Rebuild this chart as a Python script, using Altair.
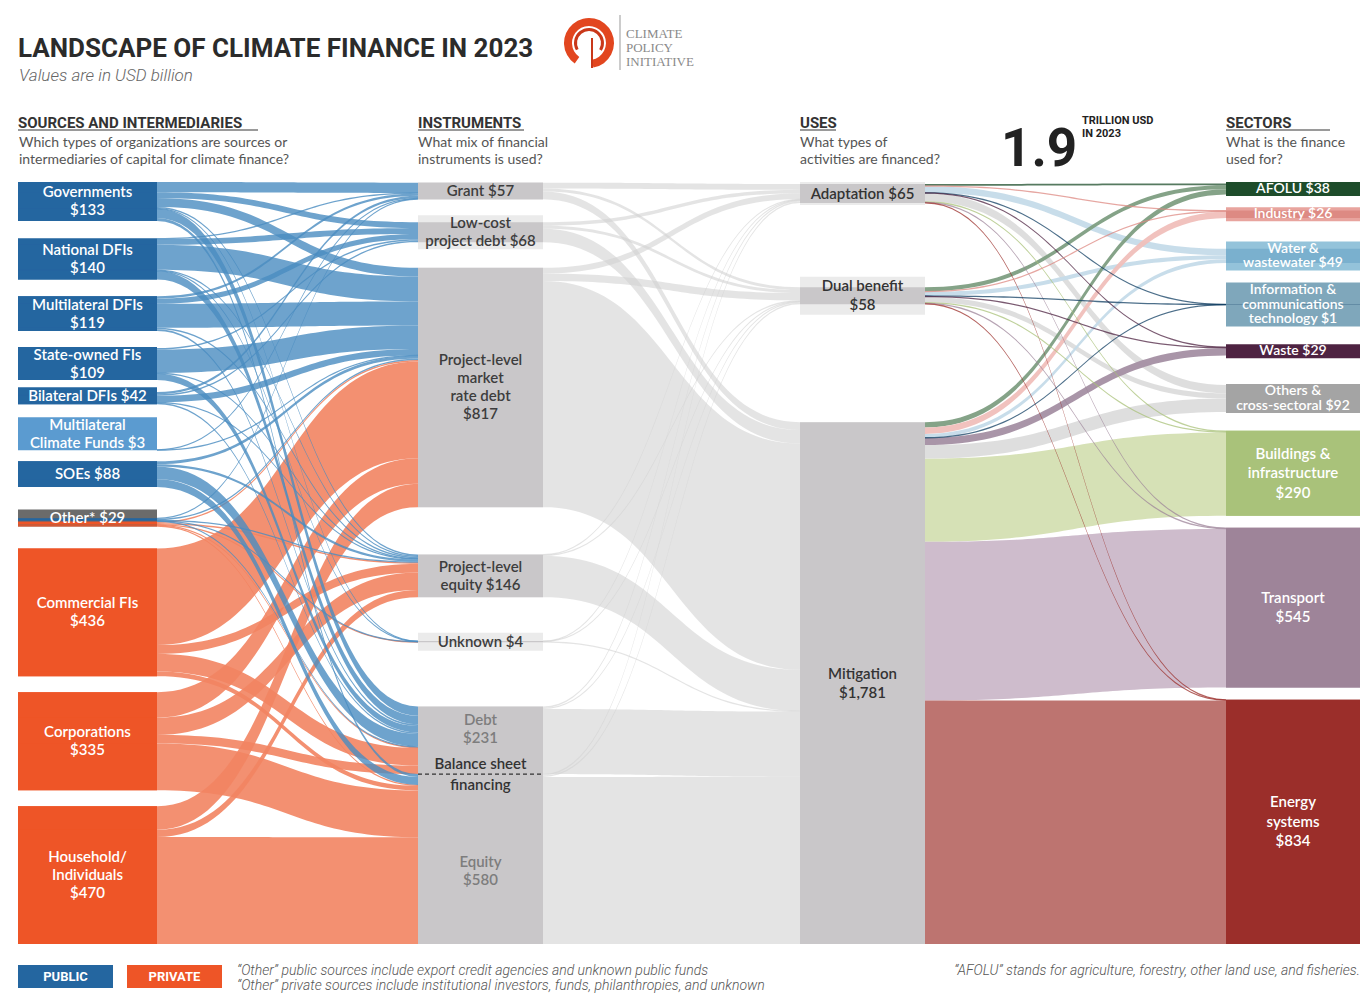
import altair as alt
import numpy as np
import pandas as pd

# ---------------- DATA (USD billion) ----------------
source_labels = ["Governments\n$133", "National DFIs\n$140", "Multilateral DFIs\n$119", "State-owned FIs\n$109",
                 "Bilateral DFIs $42", "Multilateral\nClimate Funds $3", "SOEs $88", "Other* $29",
                 "Commercial FIs\n$436", "Corporations\n$335", "Household/\nIndividuals\n$470"]
source_values = [133, 140, 119, 109, 42, 3, 88, 29, 436, 335, 470]

instrument_labels = ["Grant $57", "Low-cost\nproject debt $68", "Project-level\nmarket\nrate debt\n$817",
                     "Project-level\nequity $146", "Unknown $4", "Debt\n$231", "Equity\n$580"]
instrument_values = [57, 68, 817, 146, 4, 231, 580]

use_labels = ["Adaptation $65", "Dual benefit\n$58", "Mitigation\n$1,781"]
use_values = [65, 58, 1781]

sector_labels = ["AFOLU $38", "Industry $26", "Water &\nwastewater $49",
                 "Information &\ncommunications\ntechnology $1", "Waste $29",
                 "Others &\ncross-sectoral $92", "Buildings &\ninfrastructure\n$290",
                 "Transport\n$545", "Energy\nsystems\n$834"]
sector_values = [38, 26, 49, 1, 29, 92, 290, 545, 834]

# source -> instrument (columns follow instrument order)
public_to_instrument = [
    [35, 20, 30, 5, 1, 32, 10],   # Governments
    [2, 20, 85, 3, 1, 29, 0],     # National DFIs
    [8, 18, 82, 5, 0, 6, 0],      # Multilateral DFIs
    [0, 5, 80, 2, 0, 22, 0],      # State-owned FIs
    [8, 5, 22, 2, 0, 5, 0],       # Bilateral DFIs
    [2, 0, 1, 0, 0, 0, 0],        # Multilateral Climate Funds
    [0, 0, 10, 8, 0, 43, 27],     # SOEs
    [2, 0, 5, 2, 1, 2, 0],        # Other* (public)
]
private_rows = [7, 8, 9, 10]
private_to_instrument = [
    [0, 0, 5, 5, 1, 3, 3],        # Other* (private)
    [0, 0, 330, 30, 0, 60, 16],   # Commercial FIs
    [0, 0, 87, 59, 0, 29, 160],   # Corporations
    [0, 0, 80, 25, 0, 0, 365],    # Household/Individuals
]
# instrument -> use (Adaptation, Dual benefit, Mitigation)
instrument_to_use = [
    [20, 10, 27], [12, 10, 46], [20, 25, 772], [2, 3, 141],
    [1, 1, 2], [5, 4, 222], [5, 5, 571],
]
# use -> sector
use_to_sector = [
    [6, 2, 22, 0.3, 1, 28, 3, 1.5, 1.2],
    [14, 2, 14, 0.4, 3, 18, 3, 2, 1.6],
    [18, 22, 13, 0.3, 25, 46, 284, 541.5, 831.2],
]

# ---------------- STYLE ----------------
PUB_DARK, PRIV_DARK = "#2466a0", "#ee5527"
PUB_FLOW, PRIV_FLOW = "#4a8cc0", "#f28462"
MID_FLOW = "#d2d2d2"
GRAY_BAND, GRAY_BOX = "#c9c7c9", "#ebebeb"
source_box_colors = [PUB_DARK] * 5 + ["#5b9bd0", PUB_DARK, "#6b6b6b"] + [PRIV_DARK] * 3
sector_box_colors = ["#1e4d2b", "#e8a49e", "#94c3da", "#7fa7bb", "#4e2342", "#a4a4a4",
                     "#a9c27a", "#9e8499", "#9b2e2a"]
sector_band_colors = ["#1e4d2b", "#dd8a83", "#7ab0ce", "#123f63", "#4e2342", "#a4a4a4",
                      "#a9c27a", "#9e8499", "#9b2e2a"]
sector_flow_colors = ["#7e9e82", "#f0bfbb", "#c5dbe9", "#a9c8dc", "#a48fa3", "#dcdcdc",
                      "#d4dfb2", "#cbb8c9", "#b96d68"]

LABEL_FONT = "Lato"
HEAD = "Roboto"

# ---------------- LAYOUT ----------------
K = 0.293            # px per USD bn
TOP, BOT = 182.0, 944.0
colx = [(18, 157), (418, 543), (800, 925), (1226, 1360)]


def stack(values, labels, line_h, pad, gap_w, align):
    band = [v * K for v in values]
    lines = [lab.count("\n") + 1 for lab in labels]
    box = [max(b, n * line_h + pad) for b, n in zip(band, lines)]
    free = (BOT - TOP) - sum(box)
    unit = free / sum(gap_w)
    y = TOP
    out = []
    for i in range(len(values)):
        b0, b1 = y, y + box[i]
        t0 = b1 - band[i] if align == "bottom" else b0 + (box[i] - band[i]) / 2
        out.append(dict(box0=b0, box1=b1, band0=t0, band1=t0 + band[i]))
        if i < len(values) - 1:
            y = b1 + gap_w[i] * unit
    return out


src_nodes = stack(source_values, source_labels, 16, 1,
                  [1.2, 1.15, 1.1, 0.5, 0.9, 0.75, 1.55, 1.5, 1.1, 1.1], "bottom")
ins_nodes = stack(instrument_values, instrument_labels, 16, 2,
                  [0.45, 0.55, 1.4, 1.05, 1.65, 0.0], "center")
use_nodes = stack(use_values, use_labels, 15, 8, [0.8, 1.2], "center")
sec_nodes = stack(sector_values, sector_labels, 15, -1,
                  [0.7, 1.25, 0.75, 1.1, 1.6, 1.1, 0.75, 0.75], "center")
cols = [src_nodes, ins_nodes, use_nodes, sec_nodes]

# links
links = []
for i, row in enumerate(public_to_instrument):
    for j, v in enumerate(row):
        if v > 0:
            links.append(dict(stage=0, s=i, t=j, v=v, kind="public"))
for r, row in zip(private_rows, private_to_instrument):
    for j, v in enumerate(row):
        if v > 0:
            links.append(dict(stage=0, s=r, t=j, v=v, kind="private"))
for i, row in enumerate(instrument_to_use):
    for j, v in enumerate(row):
        if v > 0:
            links.append(dict(stage=1, s=i, t=j, v=v, kind="mid"))
for i, row in enumerate(use_to_sector):
    for j, v in enumerate(row):
        if v > 0:
            links.append(dict(stage=2, s=i, t=j, v=v, kind="sector"))

KORD = {"public": 0, "private": 1, "mid": 0, "sector": 0}
for stage in range(3):
    L = [l for l in links if l["stage"] == stage]
    for i, node in enumerate(cols[stage]):
        out = sorted([l for l in L if l["s"] == i], key=lambda l: (KORD[l["kind"]], l["t"]))
        tot = sum(l["v"] for l in out)
        f = (node["band1"] - node["band0"]) / tot
        y = node["band0"]
        for l in out:
            l["sy0"] = y
            y += l["v"] * f
            l["sy1"] = y
    for j, node in enumerate(cols[stage + 1]):
        inc = sorted([l for l in L if l["t"] == j], key=lambda l: (l["s"], KORD[l["kind"]]))
        tot = sum(l["v"] for l in inc)
        f = (node["band1"] - node["band0"]) / tot
        y = node["band0"]
        for l in inc:
            l["ty0"] = y
            y += l["v"] * f
            l["ty1"] = y

tt = np.linspace(0, 1, 48)


def link_rows(l, lid):
    xs = colx[l["stage"]][1]
    xt = colx[l["stage"] + 1][0]
    xm = (xs + xt) / 2
    x = (1 - tt) ** 3 * xs + 3 * (1 - tt) ** 2 * tt * xm + 3 * (1 - tt) * tt ** 2 * xm + tt ** 3 * xt
    e = 3 * tt ** 2 - 2 * tt ** 3
    y0 = l["sy0"] + (l["ty0"] - l["sy0"]) * e
    y1 = l["sy1"] + (l["ty1"] - l["sy1"]) * e
    c = (y0 + y1) / 2
    thin = (y1 - y0) < 1.3
    y0 = np.where(thin, c - 0.65, y0)
    y1 = np.where(thin, c + 0.65, y1)
    if l["kind"] == "public":
        col, op = PUB_FLOW, 0.8
    elif l["kind"] == "private":
        col, op = PRIV_FLOW, 0.9
    elif l["kind"] == "mid":
        col, op = MID_FLOW, 0.6
    else:
        if l["v"] * K < 2.5:
            col, op = sector_band_colors[l["t"]], 0.75
        else:
            col, op = sector_flow_colors[l["t"]], 0.95
    return pd.DataFrame(dict(link=lid, x=x, ya=y0, yb=y1, color=col, op=op))


XS = alt.Scale(domain=[8, 1360], nice=False, zero=False)
YS = alt.Scale(domain=[8, 995], reverse=True, nice=False, zero=False)


def X(f):
    return alt.X(f, type="quantitative", scale=XS, axis=None)


def Y(f):
    return alt.Y(f, type="quantitative", scale=YS, axis=None)


def flow_layer(sel):
    df = pd.concat([link_rows(l, k) for k, l in sel], ignore_index=True)
    return alt.Chart(df).mark_area(interpolate="linear").encode(
        x=X("x"), y=Y("ya"), y2=alt.Y2("yb"), detail="link:N",
        color=alt.Color("color:N", scale=None), opacity=alt.Opacity("op:Q", scale=None))


indexed = list(enumerate(links))
layers = [
    flow_layer([(k, l) for k, l in indexed if l["kind"] == "private"]),
    flow_layer([(k, l) for k, l in indexed if l["kind"] == "public"]),
    flow_layer([(k, l) for k, l in indexed if l["kind"] == "mid"]),
    flow_layer([(k, l) for k, l in indexed if l["kind"] == "sector" and l["v"] >= 100]),
    flow_layer([(k, l) for k, l in indexed if l["kind"] == "sector" and 10 <= l["v"] < 100]),
    flow_layer([(k, l) for k, l in indexed if l["kind"] == "sector" and l["v"] < 10]),
]

# node rectangles
rects = []
for k, n in enumerate(src_nodes):
    rects.append(dict(x0=colx[0][0], x1=colx[0][1], y0=n["box0"], y1=n["box1"], color=source_box_colors[k]))
for l in links:
    if l["stage"] == 0 and src_nodes[l["s"]]["band1"] - src_nodes[l["s"]]["band0"] > 3:
        rects.append(dict(x0=colx[0][0], x1=colx[0][1], y0=l["sy0"], y1=l["sy1"],
                          color=PUB_DARK if l["kind"] == "public" else PRIV_DARK))
for ci in (1, 2):
    for n in cols[ci]:
        rects.append(dict(x0=colx[ci][0], x1=colx[ci][1], y0=n["box0"], y1=n["box1"], color=GRAY_BOX))
        rects.append(dict(x0=colx[ci][0], x1=colx[ci][1], y0=n["band0"], y1=n["band1"], color=GRAY_BAND))
for k, n in enumerate(sec_nodes):
    rects.append(dict(x0=colx[3][0], x1=colx[3][1], y0=n["box0"], y1=n["box1"], color=sector_box_colors[k]))
    rects.append(dict(x0=colx[3][0], x1=colx[3][1], y0=n["band0"], y1=n["band1"], color=sector_band_colors[k]))
# legend boxes
rects.append(dict(x0=18, x1=113, y0=965, y1=988, color=PUB_DARK))
rects.append(dict(x0=127, x1=222, y0=965, y1=988, color=PRIV_DARK))
rect_df = pd.DataFrame(rects)
layers.append(alt.Chart(rect_df).mark_rect().encode(
    x=X("x0"), x2=alt.X2("x1"), y=Y("y0"), y2=alt.Y2("y1"), color=alt.Color("color:N", scale=None)))

# dashed divider of balance-sheet financing
bs_y = ins_nodes[5]["box1"]
layers.append(alt.Chart(pd.DataFrame([dict(x0=colx[1][0], x1=colx[1][1], y=bs_y)])).mark_rule(
    color="#333", strokeDash=[4, 3], strokeWidth=1.2).encode(x=X("x0"), x2=alt.X2("x1"), y=Y("y")))


def text_layer(rows, **kw):
    df = pd.DataFrame(rows)
    enc = dict(x=X("x"), y=Y("y"), text="text:N")
    if "color" in df.columns:
        enc["color"] = alt.Color("color:N", scale=None)
    return alt.Chart(df).mark_text(lineBreak="\n", **kw).encode(**enc)


def block(text, ci, n, lh, dy=0, **extra):
    # first-line position so that a multi-line block is centred on its node box
    nl = text.count("\n")
    cx = (colx[ci][0] + colx[ci][1]) / 2
    cy = (n["box0"] + n["box1"]) / 2 + dy - nl * lh / 2
    return dict(text=text, x=cx, y=cy, **extra)


# node labels
rows = [block(t, 0, n, 18) for t, n in zip(source_labels, src_nodes)]
layers.append(text_layer(rows, font=LABEL_FONT, fontSize=15, fontWeight=600, color="white",
                         lineHeight=18, baseline="middle", align="center"))
ins_dy = [0, 0, 0, 0, 0, -11, 12]
ins_col = ["#3d3d3d"] * 5 + ["#7d7d7d"] * 2
rows = [block(t, 1, n, 18, d, color=c) for t, n, d, c in zip(instrument_labels, ins_nodes, ins_dy, ins_col)]
cx1 = (colx[1][0] + colx[1][1]) / 2
rows += [dict(text="Balance sheet", x=cx1, y=bs_y - 10, color="#333333"),
         dict(text="financing", x=cx1, y=bs_y + 11, color="#333333")]
layers.append(text_layer(rows, font=LABEL_FONT, fontSize=15, fontWeight=600,
                         lineHeight=18, baseline="middle", align="center"))
rows = [block(t, 2, n, 19) for t, n in zip(use_labels, use_nodes)]
layers.append(text_layer(rows, font=LABEL_FONT, fontSize=15, fontWeight=600, color="#333333",
                         lineHeight=19, baseline="middle", align="center"))
small = [block(t, 3, n, 14.5) for t, n in zip(sector_labels, sec_nodes) if n["box1"] - n["box0"] < 60]
big = [block(t, 3, n, 19.5) for t, n in zip(sector_labels, sec_nodes) if n["box1"] - n["box0"] >= 60]
layers.append(text_layer(small, font=LABEL_FONT, fontSize=14, fontWeight=600, color="white",
                         lineHeight=14.5, baseline="middle", align="center"))
layers.append(text_layer(big, font=LABEL_FONT, fontSize=15, fontWeight=600, color="white",
                         lineHeight=19.5, baseline="middle", align="center"))

# ---------------- headings & notes ----------------
layers.append(text_layer([dict(text="LANDSCAPE OF CLIMATE FINANCE IN 2023", x=18, y=49)],
                         font=HEAD, fontSize=26, fontWeight="bold", color="#2b2b2b", align="left"))
layers.append(text_layer([dict(text="Values are in USD billion", x=19, y=76)],
                         font=HEAD, fontSize=17, fontWeight=300, fontStyle="italic", color="#666666",
                         align="left"))
heads = [dict(text="SOURCES AND INTERMEDIARIES", x=18, y=123), dict(text="INSTRUMENTS", x=418, y=123),
         dict(text="USES", x=800, y=123), dict(text="SECTORS", x=1226, y=123)]
layers.append(text_layer(heads, font=HEAD, fontSize=15, fontWeight="bold", color="#333333", align="left"))
unders = pd.DataFrame([dict(x0=18, x1=258), dict(x0=418, x1=524), dict(x0=800, x1=836), dict(x0=1226, x1=1330)])
unders["y"] = 130
layers.append(alt.Chart(unders).mark_rule(color="#9a9a9a", strokeWidth=2).encode(
    x=X("x0"), x2=alt.X2("x1"), y=Y("y")))
qs = [dict(text="Which types of organizations are sources or\nintermediaries of capital for climate finance?", x=19, y=143),
      dict(text="What mix of financial\ninstruments is used?", x=418, y=143),
      dict(text="What types of\nactivities are financed?", x=800, y=143),
      dict(text="What is the finance\nused for?", x=1226, y=143)]
layers.append(text_layer(qs, font=LABEL_FONT, fontSize=14, color="#555555", lineHeight=17,
                         align="left", baseline="middle"))
layers.append(text_layer([dict(text="1.9", x=1001, y=150)], font=HEAD, fontSize=53, fontWeight="bold",
                         color="#222222", align="left"))
layers.append(text_layer([dict(text="TRILLION USD\nIN 2023", x=1082, y=121)], font=HEAD, fontSize=11,
                         fontWeight="bold", color="#222222", align="left", lineHeight=13))

# logo
logo = pd.DataFrame([dict(x=589, y=43)])
layers.append(alt.Chart(logo).mark_arc(theta=3.75, theta2=3.75 + 5.5, radius=25, radius2=17,
                                       color="#e2461f").encode(x=X("x"), y=Y("y")))
layers.append(alt.Chart(logo).mark_arc(theta=4.2, theta2=4.2 + 4.2, radius=15, radius2=12,
                                       color="#c9381a").encode(x=X("x"), y=Y("y")))
layers.append(alt.Chart(pd.DataFrame([dict(x=592, y0=38, y1=68), dict(x=620, y0=15, y1=70)])).mark_rule(
    strokeWidth=2).encode(x=X("x"), y=Y("y0"), y2=alt.Y2("y1"),
                          color=alt.condition("datum.x < 600", alt.value("#c9381a"), alt.value("#cccccc"))))
layers.append(text_layer([dict(text="CLIMATE\nPOLICY\nINITIATIVE", x=626, y=34)], font="Liberation Serif",
                         fontSize=13, color="#8a8a8a", align="left", lineHeight=14))

# legend text & notes
layers.append(text_layer([dict(text="PUBLIC", x=65.5, y=977), dict(text="PRIVATE", x=174.5, y=977)],
                         font=HEAD, fontSize=13, fontWeight="bold", color="white", align="center",
                         baseline="middle"))
notes = [dict(text="\u201cOther\u201d public sources include export credit agencies and unknown public funds", x=237, y=971),
         dict(text="\u201cOther\u201d private sources include institutional investors, funds, philanthropies, and unknown", x=237, y=986)]
layers.append(text_layer(notes, font=HEAD, fontSize=14, fontWeight=300, fontStyle="italic",
                         color="#555555", align="left"))
layers.append(text_layer([dict(text="\u201cAFOLU\u201d stands for agriculture, forestry, other land use, and fisheries.",
                                x=1360, y=971)], font=HEAD, fontSize=14, fontWeight=300, fontStyle="italic",
                         color="#555555", align="right"))

chart = alt.layer(*layers).properties(
    width=1352, height=987, padding=0, background="white",
    autosize=alt.AutoSizeParams(type="none"),
).configure_view(strokeWidth=0)

chart.save("out.html", embed_options={"renderer": "svg", "actions": False})
